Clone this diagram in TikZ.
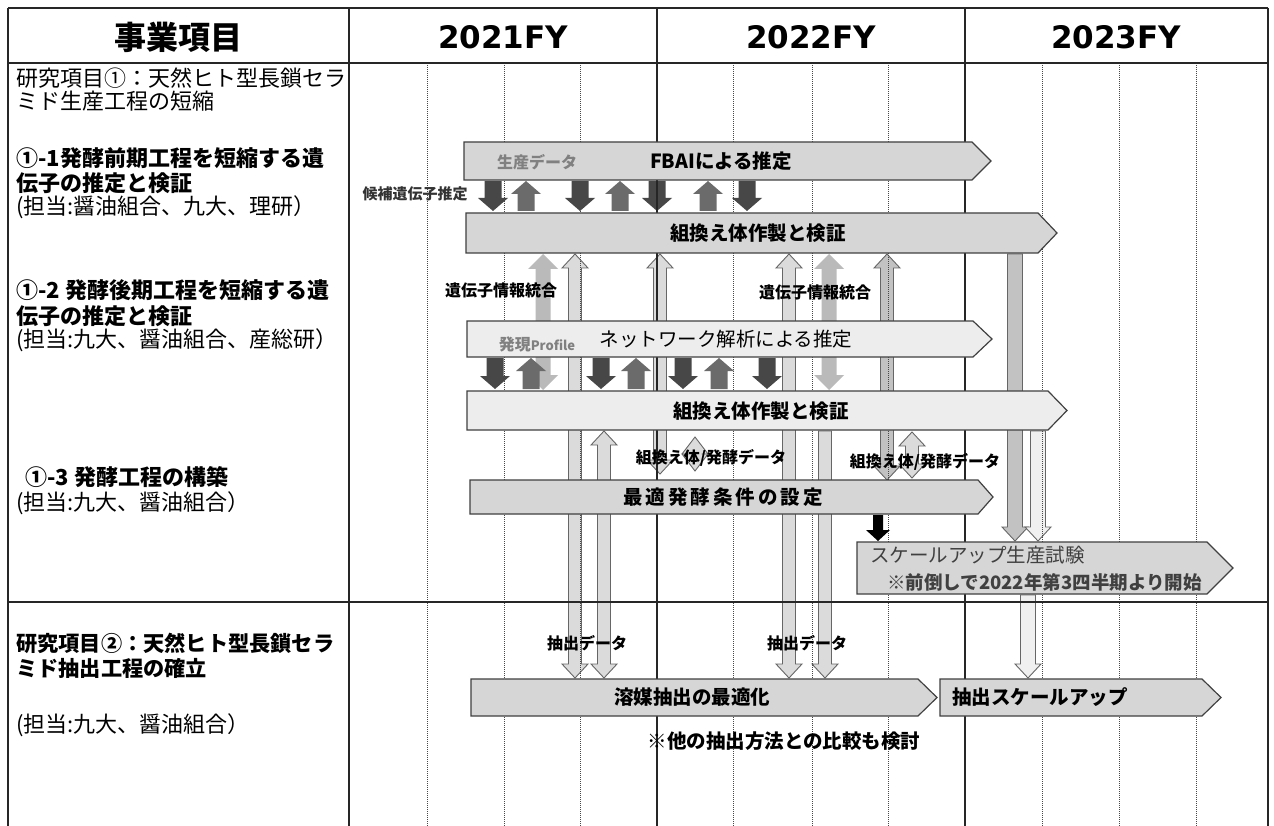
\documentclass[tikz,border=0pt]{standalone}
\usepackage{fontspec}
\setmainfont{Noto Sans CJK JP}
\newfontfamily\yearfont{DejaVu Sans}
\newcommand{\blkarrow}[7]{%
  \pgfmathsetmacro{\bkA}{sign(#4-#3)}%
  \pgfmathsetmacro{\bkB}{#4-\bkA*#7}%
  \path[#1] ({#2-#5},#3) -- ({#2-#5},\bkB) -- ({#2-#6},\bkB) -- (#2,#4) -- ({#2+#6},\bkB) -- ({#2+#5},\bkB) -- ({#2+#5},#3) -- cycle;}
\newcommand{\blkdarrow}[7]{%
  \path[#1] (#2,#3) -- ({#2+#6},{#3+#7}) -- ({#2+#5},{#3+#7}) -- ({#2+#5},{#4-#7}) -- ({#2+#6},{#4-#7}) -- (#2,#4) -- ({#2-#6},{#4-#7}) -- ({#2-#5},{#4-#7}) -- ({#2-#5},{#3+#7}) -- ({#2-#6},{#3+#7}) -- cycle;}
\newcommand{\pbar}[6]{%
  \path[#1] (#2,#5) -- (#3,#5) -- (#4,{(#5+#6)/2}) -- (#3,#6) -- (#2,#6) -- cycle;}
\begin{document}
\begin{tikzpicture}[x=1pt,y=-1pt,
  solidline/.style={line width=2pt, black!85},
  qline/.style={line width=1pt, black!72, dash pattern=on 1pt off 1pt},
  bar/.style={draw=black!75, line width=1.2pt, fill=black!16},
  barlight/.style={draw=black!75, line width=1.2pt, fill=black!7},
  darr/.style={fill=black!72},
  uarr/.style={fill=black!58},
  larr/.style={fill=black!27},
  hol/.style={fill=black!14, draw=black!60, line width=0.9pt},
  hold/.style={fill=black!24, draw=black!60, line width=0.9pt},
  holl/.style={fill=black!6, draw=black!60, line width=0.9pt},
  blk/.style={fill=black},
  txt/.style={inner sep=0pt, font=\fontsize{22}{24}\selectfont},
  btxt/.style={inner sep=0pt, font=\fontsize{22}{25}\selectfont\bfseries},
  lab/.style={inner sep=0pt, font=\fontsize{16}{18}\selectfont\bfseries},
  bartxt/.style={inner sep=0pt, font=\fontsize{19.5}{22}\selectfont\bfseries},
  head/.style={inner sep=0pt, font=\fontsize{32}{36}\selectfont\bfseries},
  yeartxt/.style={inner sep=0pt, font=\fontsize{31}{36}\selectfont\yearfont\bfseries}
]
\useasboundingbox (0,0) rectangle (1274,826);
\fill[white] (0,0) rectangle (1274,826);

% ---------- long vertical arrows ----------
\blkdarrow{larr}{543}{254}{390}{7.5}{15}{15}
\blkdarrow{larr}{829}{254}{390}{7.5}{15}{15}
\blkdarrow{hol}{575}{254}{678}{6.5}{13}{14}
\blkdarrow{hol}{660}{254}{474}{6.5}{13}{14}
\blkdarrow{hol}{789}{254}{678}{6.5}{13}{14}
\blkdarrow{hold}{887}{254}{480}{6.5}{13}{14}
\blkdarrow{hol}{604}{431}{678}{6.5}{13}{14}
\blkarrow{hol}{825}{431}{678}{6.5}{13}{14}
\blkdarrow{hol}{695}{437}{471}{6.5}{13}{17}
\blkdarrow{hol}{912}{432}{478}{6.5}{13}{14}
\blkarrow{hold}{1015}{254}{541}{7.5}{13}{14}
\blkarrow{holl}{1038}{431}{541}{7.5}{13}{14}
\blkarrow{holl}{1028}{595}{678}{7.5}{13}{14}
\blkarrow{blk}{878}{515}{541}{5}{12}{11}

% ---------- short arrows between bars ----------
\foreach \x in {493,580,657,747} {\blkarrow{darr}{\x}{181}{211}{8.5}{15}{13}}
\foreach \x in {526,620,708} {\blkarrow{uarr}{\x}{211}{181}{8.5}{15}{13}}
\foreach \x in {495,601,683,767} {\blkarrow{darr}{\x}{358}{389}{8.5}{15}{13}}
\foreach \x in {531,636,719} {\blkarrow{uarr}{\x}{389}{358}{8.5}{15}{13}}

% ---------- grid ----------
\foreach \x in {427,504,580,733,812,888,1042,1119,1196}
  {\draw[qline] (\x,63) -- (\x,826);}
\draw[solidline] (8,8) -- (1268,8);
\draw[solidline] (8,63) -- (1268,63);
\draw[solidline] (8,602) -- (1268,602);
\foreach \x in {8,349,657,965,1268}
  {\draw[solidline] (\x,8) -- (\x,826);}

% ---------- bars ----------
\pbar{bar}{464}{972}{991}{142}{180}
\pbar{bar}{466}{1038}{1057}{213}{253}
\pbar{barlight}{467}{973}{992}{321}{357}
\pbar{barlight}{467}{1048}{1067}{391}{430}
\pbar{bar}{470}{978}{993}{480}{514}
\pbar{bar}{857}{1207}{1233}{542}{594}
\pbar{bar}{471}{918}{937}{679}{716}
\pbar{bar}{940}{1202}{1221}{679}{716}

% ---------- header ----------
\node[head] (h0) at (178,37) {事業項目};
\node[yeartxt] (h1) at (503,37) {2021FY};
\node[yeartxt] (h2) at (811,37) {2022FY};
\node[yeartxt] (h3) at (1116,37) {2023FY};

% ---------- left column ----------
\node[txt, anchor=west] (l1a) at (16,78) {研究項目①：天然ヒト型長鎖セラ};
\node[txt, anchor=west] (l1b) at (16,101) {ミド生産工程の短縮};
\node[btxt, anchor=west] (l2a) at (16,158) {①-1発酵前期工程を短縮する遺};
\node[btxt, anchor=west] (l2b) at (16,183) {伝子の推定と検証};
\node[txt, anchor=west] (l2c) at (16,207) {(担当:醤油組合、九大、理研）};
\node[btxt, anchor=west] (l3a) at (16,290) {①-2 発酵後期工程を短縮する遺};
\node[btxt, anchor=west] (l3b) at (16,316) {伝子の推定と検証};
\node[txt, anchor=west] (l3c) at (16,340) {(担当:九大、醤油組合、産総研）};
\node[btxt, anchor=west] (l4a) at (25,477) {①-3 発酵工程の構築};
\node[txt, anchor=west] (l4b) at (16,503) {(担当:九大、醤油組合）};
\node[btxt, anchor=west, font=\fontsize{21.2}{25}\selectfont\bfseries] (l5a) at (16,643) {研究項目②：天然ヒト型長鎖セラ};
\node[btxt, anchor=west, font=\fontsize{21.2}{25}\selectfont\bfseries] (l5b) at (16,668) {ミド抽出工程の確立};
\node[txt, anchor=west] (l5c) at (16,725) {(担当:九大、醤油組合）};

% ---------- bar texts ----------
\node[lab, text=black!50] (g1) at (537,162) {生産データ};
\node[bartxt] (b1) at (721,161) {FBAIによる推定};
\node[lab, text=black!80, font=\fontsize{15}{17}\selectfont\bfseries] (c1) at (415,194) {候補遺伝子推定};
\node[bartxt] (b2) at (758,233) {組換え体作製と検証};
\node[lab] (c2) at (501,290) {遺伝子情報統合};
\node[lab] (c3) at (815,292) {遺伝子情報統合};
\node[lab, text=black!50] (g2) at (537,344) {発現{\fontsize{13}{15}\selectfont Profile}};
\node[bartxt, font=\fontsize{19.5}{22}\selectfont] (b3) at (726,339) {ネットワーク解析による推定};
\node[bartxt] (b4) at (761,411) {組換え体作製と検証};
\node[lab] (c4) at (711,458) {組換え体/発酵データ};
\node[lab] (c5) at (925,462) {組換え体/発酵データ};
\node[bartxt] (b5) at (723,497) {最\hspace{3pt}適\hspace{3pt}発\hspace{3pt}酵\hspace{3pt}条\hspace{3pt}件\hspace{3pt}の\hspace{3pt}設\hspace{3pt}定};
\node[bartxt, font=\fontsize{19.5}{22}\selectfont, text=black!75, anchor=west] (b6a) at (870,555) {スケールアップ生産試験};
\node[bartxt, font=\fontsize{18.5}{20}\selectfont\bfseries, text=black!75, anchor=west] (b6b) at (887,582) {※前倒しで2022年第3四半期より開始};
\node[lab] (c6) at (587,643) {抽出データ};
\node[lab] (c7) at (807,643) {抽出データ};
\node[bartxt] (b7) at (692,697) {溶媒抽出の最適化};
\node[bartxt, anchor=west] (b8) at (952,697) {抽出スケールアップ};
\node[bartxt] (n1) at (784,741) {※他の抽出方法との比較も検討};
\end{tikzpicture}
\end{document}
